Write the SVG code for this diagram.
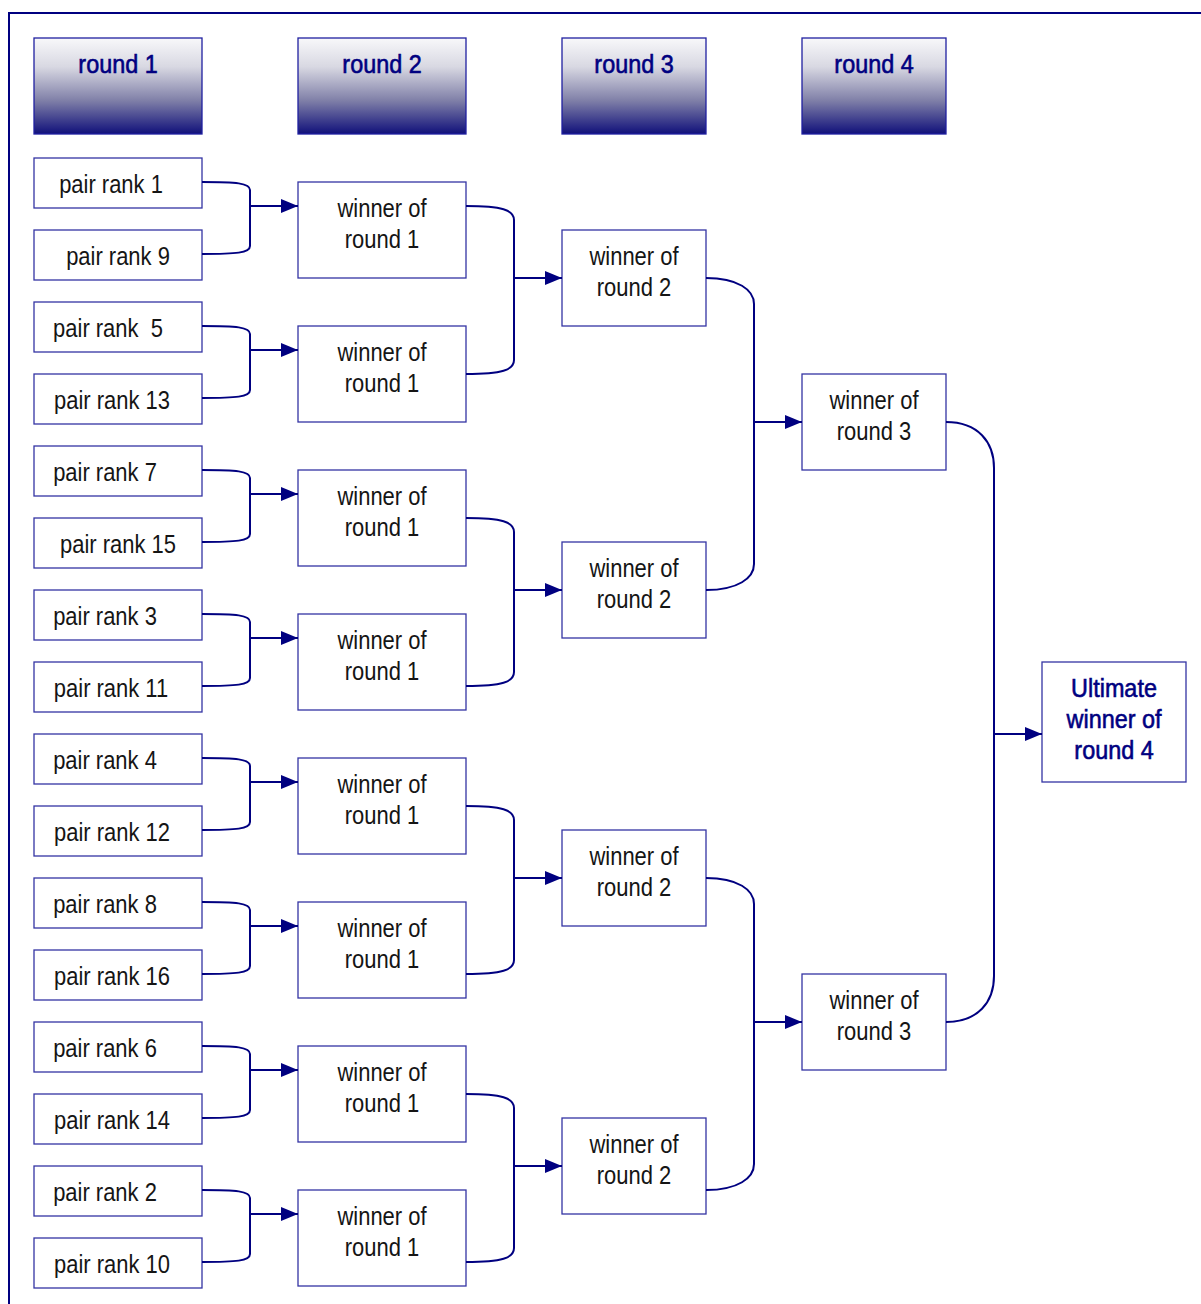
<svg xmlns="http://www.w3.org/2000/svg" width="1201" height="1304" viewBox="0 0 1201 1304">
<defs>
<linearGradient id="hg" x1="0" y1="0" x2="0" y2="1">
<stop offset="0" stop-color="#f8f8fa"/>
<stop offset="0.3" stop-color="#d8d8e2"/>
<stop offset="0.65" stop-color="#8080a8"/>
<stop offset="1" stop-color="#10107a"/>
</linearGradient>
<marker id="ah" markerWidth="17" markerHeight="14" refX="17" refY="7" orient="auto" markerUnits="userSpaceOnUse">
<path d="M0,0 L17,7 L0,14 Z" fill="#000080"/>
</marker>
<style>
.hdr{fill:url(#hg);stroke:#2020a0;stroke-width:1.3}
.box{fill:#fff;stroke:#3434a4;stroke-width:1.3}
.t{font-family:"Liberation Sans",Arial,sans-serif;font-size:26px;fill:#151515;text-anchor:middle}
.h{font-family:"Liberation Sans",Arial,sans-serif;font-size:26px;fill:#000080;text-anchor:middle;stroke:#000080;stroke-width:0.6}
.c{fill:none;stroke:#000080;stroke-width:2}
.a{fill:none;stroke:#000080;stroke-width:2;marker-end:url(#ah)}
</style>
</defs>
<rect x="0" y="0" width="1201" height="1304" fill="#fff"/>
<path d="M9,1304 V13 H1201" fill="none" stroke="#000080" stroke-width="2"/>
<g id="headers">
<g id="h1"><rect class="hdr" x="34" y="38" width="168" height="96"/><text class="h" transform="translate(118,73) scale(0.9,1)">round 1</text></g>
<g id="h2"><rect class="hdr" x="298" y="38" width="168" height="96"/><text class="h" transform="translate(382,73) scale(0.9,1)">round 2</text></g>
<g id="h3"><rect class="hdr" x="562" y="38" width="144" height="96"/><text class="h" transform="translate(634,73) scale(0.9,1)">round 3</text></g>
<g id="h4"><rect class="hdr" x="802" y="38" width="144" height="96"/><text class="h" transform="translate(874,73) scale(0.9,1)">round 4</text></g>
</g>
<g id="p1"><rect class="box" x="34" y="158" width="168" height="50"/><text class="t" transform="translate(111,193) scale(0.845,1)">pair rank 1</text></g>
<g id="p9"><rect class="box" x="34" y="230" width="168" height="50"/><text class="t" transform="translate(118,265) scale(0.845,1)">pair rank 9</text></g>
<g id="p5"><rect class="box" x="34" y="302" width="168" height="50"/><text class="t" transform="translate(108,337) scale(0.845,1)" xml:space="preserve" style="white-space:pre">pair rank  5</text></g>
<g id="p13"><rect class="box" x="34" y="374" width="168" height="50"/><text class="t" transform="translate(112,409) scale(0.845,1)">pair rank 13</text></g>
<g id="p7"><rect class="box" x="34" y="446" width="168" height="50"/><text class="t" transform="translate(105,481) scale(0.845,1)">pair rank 7</text></g>
<g id="p15"><rect class="box" x="34" y="518" width="168" height="50"/><text class="t" transform="translate(118,553) scale(0.845,1)">pair rank 15</text></g>
<g id="p3"><rect class="box" x="34" y="590" width="168" height="50"/><text class="t" transform="translate(105,625) scale(0.845,1)">pair rank 3</text></g>
<g id="p11"><rect class="box" x="34" y="662" width="168" height="50"/><text class="t" transform="translate(111,697) scale(0.845,1)">pair rank 11</text></g>
<g id="p4"><rect class="box" x="34" y="734" width="168" height="50"/><text class="t" transform="translate(105,769) scale(0.845,1)">pair rank 4</text></g>
<g id="p12"><rect class="box" x="34" y="806" width="168" height="50"/><text class="t" transform="translate(112,841) scale(0.845,1)">pair rank 12</text></g>
<g id="p8"><rect class="box" x="34" y="878" width="168" height="50"/><text class="t" transform="translate(105,913) scale(0.845,1)">pair rank 8</text></g>
<g id="p16"><rect class="box" x="34" y="950" width="168" height="50"/><text class="t" transform="translate(112,985) scale(0.845,1)">pair rank 16</text></g>
<g id="p6"><rect class="box" x="34" y="1022" width="168" height="50"/><text class="t" transform="translate(105,1057) scale(0.845,1)">pair rank 6</text></g>
<g id="p14"><rect class="box" x="34" y="1094" width="168" height="50"/><text class="t" transform="translate(112,1129) scale(0.845,1)">pair rank 14</text></g>
<g id="p2"><rect class="box" x="34" y="1166" width="168" height="50"/><text class="t" transform="translate(105,1201) scale(0.845,1)">pair rank 2</text></g>
<g id="p10"><rect class="box" x="34" y="1238" width="168" height="50"/><text class="t" transform="translate(112,1273) scale(0.845,1)">pair rank 10</text></g>
<g id="r1a"><rect class="box" x="298" y="182" width="168" height="96"/><text class="t" transform="translate(382,217) scale(0.845,1)">winner of</text><text class="t" transform="translate(382,248) scale(0.845,1)">round 1</text></g>
<g id="r1b"><rect class="box" x="298" y="326" width="168" height="96"/><text class="t" transform="translate(382,361) scale(0.845,1)">winner of</text><text class="t" transform="translate(382,392) scale(0.845,1)">round 1</text></g>
<g id="r1c"><rect class="box" x="298" y="470" width="168" height="96"/><text class="t" transform="translate(382,505) scale(0.845,1)">winner of</text><text class="t" transform="translate(382,536) scale(0.845,1)">round 1</text></g>
<g id="r1d"><rect class="box" x="298" y="614" width="168" height="96"/><text class="t" transform="translate(382,649) scale(0.845,1)">winner of</text><text class="t" transform="translate(382,680) scale(0.845,1)">round 1</text></g>
<g id="r1e"><rect class="box" x="298" y="758" width="168" height="96"/><text class="t" transform="translate(382,793) scale(0.845,1)">winner of</text><text class="t" transform="translate(382,824) scale(0.845,1)">round 1</text></g>
<g id="r1f"><rect class="box" x="298" y="902" width="168" height="96"/><text class="t" transform="translate(382,937) scale(0.845,1)">winner of</text><text class="t" transform="translate(382,968) scale(0.845,1)">round 1</text></g>
<g id="r1g"><rect class="box" x="298" y="1046" width="168" height="96"/><text class="t" transform="translate(382,1081) scale(0.845,1)">winner of</text><text class="t" transform="translate(382,1112) scale(0.845,1)">round 1</text></g>
<g id="r1h"><rect class="box" x="298" y="1190" width="168" height="96"/><text class="t" transform="translate(382,1225) scale(0.845,1)">winner of</text><text class="t" transform="translate(382,1256) scale(0.845,1)">round 1</text></g>
<g id="r2a"><rect class="box" x="562" y="230" width="144" height="96"/><text class="t" transform="translate(634,265) scale(0.845,1)">winner of</text><text class="t" transform="translate(634,296) scale(0.845,1)">round 2</text></g>
<g id="r2b"><rect class="box" x="562" y="542" width="144" height="96"/><text class="t" transform="translate(634,577) scale(0.845,1)">winner of</text><text class="t" transform="translate(634,608) scale(0.845,1)">round 2</text></g>
<g id="r2c"><rect class="box" x="562" y="830" width="144" height="96"/><text class="t" transform="translate(634,865) scale(0.845,1)">winner of</text><text class="t" transform="translate(634,896) scale(0.845,1)">round 2</text></g>
<g id="r2d"><rect class="box" x="562" y="1118" width="144" height="96"/><text class="t" transform="translate(634,1153) scale(0.845,1)">winner of</text><text class="t" transform="translate(634,1184) scale(0.845,1)">round 2</text></g>
<g id="r3a"><rect class="box" x="802" y="374" width="144" height="96"/><text class="t" transform="translate(874,409) scale(0.845,1)">winner of</text><text class="t" transform="translate(874,440) scale(0.845,1)">round 3</text></g>
<g id="r3b"><rect class="box" x="802" y="974" width="144" height="96"/><text class="t" transform="translate(874,1009) scale(0.845,1)">winner of</text><text class="t" transform="translate(874,1040) scale(0.845,1)">round 3</text></g>
<g id="final"><rect class="box" x="1042" y="662" width="144" height="120"/><text class="h" transform="translate(1114,697) scale(0.9,1)">Ultimate</text><text class="h" transform="translate(1114,728) scale(0.9,1)">winner of</text><text class="h" transform="translate(1114,759) scale(0.9,1)">round 4</text></g>
<g id="connectors">
<path class="c" d="M202,182 C236,182 250,183 250,190 V246 C250,253 236,254 202,254"/><path class="a" d="M250,206 H298"/>
<path class="c" d="M202,326 C236,326 250,327 250,334 V390 C250,397 236,398 202,398"/><path class="a" d="M250,350 H298"/>
<path class="c" d="M202,470 C236,470 250,471 250,478 V534 C250,541 236,542 202,542"/><path class="a" d="M250,494 H298"/>
<path class="c" d="M202,614 C236,614 250,615 250,622 V678 C250,685 236,686 202,686"/><path class="a" d="M250,638 H298"/>
<path class="c" d="M202,758 C236,758 250,759 250,766 V822 C250,829 236,830 202,830"/><path class="a" d="M250,782 H298"/>
<path class="c" d="M202,902 C236,902 250,903 250,910 V966 C250,973 236,974 202,974"/><path class="a" d="M250,926 H298"/>
<path class="c" d="M202,1046 C236,1046 250,1047 250,1054 V1110 C250,1117 236,1118 202,1118"/><path class="a" d="M250,1070 H298"/>
<path class="c" d="M202,1190 C236,1190 250,1191 250,1198 V1254 C250,1261 236,1262 202,1262"/><path class="a" d="M250,1214 H298"/>
<path class="c" d="M466,206 C502,206 514,210 514,220 V360 C514,370 502,374 466,374"/><path class="a" d="M514,278 H562"/>
<path class="c" d="M466,518 C502,518 514,522 514,532 V672 C514,682 502,686 466,686"/><path class="a" d="M514,590 H562"/>
<path class="c" d="M466,806 C502,806 514,810 514,820 V960 C514,970 502,974 466,974"/><path class="a" d="M514,878 H562"/>
<path class="c" d="M466,1094 C502,1094 514,1098 514,1108 V1248 C514,1258 502,1262 466,1262"/><path class="a" d="M514,1166 H562"/>
<path class="c" d="M706,278 C738,278 754,290 754,304 V564 C754,578 738,590 706,590"/><path class="a" d="M754,422 H802"/>
<path class="c" d="M706,878 C738,878 754,890 754,904 V1164 C754,1178 738,1190 706,1190"/><path class="a" d="M754,1022 H802"/>
<path class="c" d="M946,422 C978,422 994,442 994,468 V976 C994,1002 978,1022 946,1022"/><path class="a" d="M994,734 H1042"/>
</g>
</svg>
